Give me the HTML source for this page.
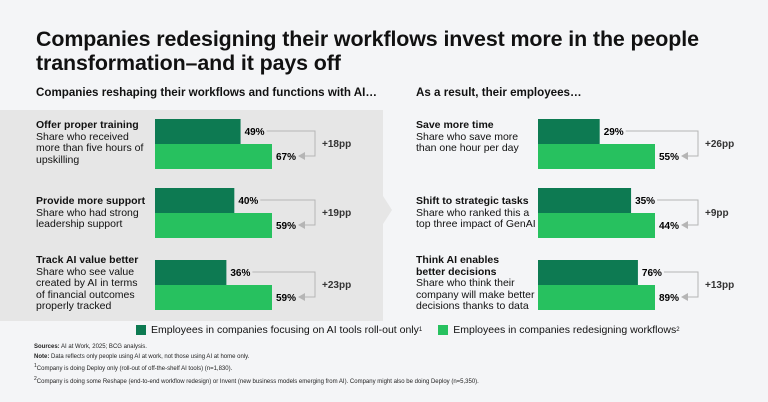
<!DOCTYPE html>
<html><head><meta charset="utf-8"><style>
body{margin:0;width:768px;height:402px;background:#f4f5f7;font-family:"Liberation Sans",sans-serif;color:#111;position:relative;overflow:hidden}
.a{position:absolute}
h1{position:absolute;left:36px;top:27px;margin:0;font-size:21.4px;line-height:24px;font-weight:bold;letter-spacing:-0.1px}
.sub{font-size:11.6px;font-weight:bold}
.lbl{font-size:10.5px;line-height:11.5px}
.lbl b{font-size:10.5px}
.fn{font-size:6px;color:#222;line-height:9.5px}
</style></head><body>
<h1>Companies redesigning their workflows invest more in the people<br>transformation–and it pays off</h1>
<div class="a" style="left:0;top:110px;width:383px;height:211px;background:#e6e6e6"></div>
<svg class="a" style="left:378px;top:196px" width="20" height="28"><polygon points="5,0 14,14 5,28 5,0" fill="#e6e6e6"/></svg>
<div class="a sub" style="left:36px;top:86px">Companies reshaping their workflows and functions with AI…</div>
<div class="a sub" style="left:416px;top:86px">As a result, their employees…</div>

<div class="a lbl" style="left:36px;top:120px"><b>Offer proper training</b><br>Share who received<br>more than five hours of<br>upskilling</div>
<div class="a lbl" style="left:36px;top:196px"><b>Provide more support</b><br>Share who had strong<br>leadership support</div>
<div class="a lbl" style="left:36px;top:255px"><b>Track AI value better</b><br>Share who see value<br>created by AI in terms<br>of financial outcomes<br>properly tracked</div>
<div class="a lbl" style="left:416px;top:120px"><b>Save more time</b><br>Share who save more<br>than one hour per day</div>
<div class="a lbl" style="left:416px;top:196px"><b>Shift to strategic tasks</b><br>Share who ranked this a<br>top three impact of GenAI</div>
<div class="a lbl" style="left:416px;top:255px"><b>Think AI enables<br>better decisions</b><br>Share who think their<br>company will make better<br>decisions thanks to data</div>

<svg class="a" style="left:0;top:0" width="768" height="402" id="chart"></svg>

<div class="a" style="left:136px;top:324px;font-size:10.5px;display:flex;align-items:center">
<span style="display:flex;align-items:center"><span style="width:10px;height:10px;background:#0d7a52;margin-right:5px"></span>Employees in companies focusing on AI tools roll-out only<sup style="font-size:6px">1</sup></span>
<span style="display:flex;align-items:center;margin-left:16px"><span style="width:10px;height:10px;background:#27c15f;margin-right:5px"></span>Employees in companies redesigning workflows<sup style="font-size:6px">2</sup></span>
</div>
<div class="a fn" style="left:34px;top:343px"><b>Sources:</b> AI at Work, 2025; BCG analysis.<br><b>Note:</b> Data reflects only people using AI at work, not those using AI at home only.<br><sup>1</sup>Company is doing Deploy only (roll-out of off-the-shelf AI tools) (n=1,830).<br><sup>2</sup>Company is doing some Reshape (end-to-end workflow redesign) or Invent (new business models emerging from AI). Company might also be doing Deploy (n=5,350).</div>

<script>
const rows = ["training","support","track","time","strategic","decisions"];
const rolloutVals = [49,40,36,29,35,76];
const redesignVals = [67,59,59,55,44,89];
const ppLabels = ["+18pp","+19pp","+23pp","+26pp","+9pp","+13pp"];
const svg = document.getElementById('chart');
const NS = 'http://www.w3.org/2000/svg';
const rowTop = [119,188,260];
function x0(i){return i<3?155:538;}
function w(v,i){const m=Math.max(rolloutVals[i],redesignVals[i]);return v/m*117;}
function el(t,a){const e=document.createElementNS(NS,t);for(const k in a)e.setAttribute(k,a[k]);svg.appendChild(e);return e;}
rows.forEach((r,i)=>{
  const y=rowTop[i%3], bx=x0(i);
  const wd=w(rolloutVals[i],i), wl=w(redesignVals[i],i);
  const b1=el('rect',{x:bx,y:y,width:wd,height:25,fill:'#0d7a52'});
  
  
  const b2=el('rect',{x:bx,y:y+25,width:wl,height:25,fill:'#27c15f'});
  
  
  const t1=el('text',{x:bx+wd+4,y:y+16,'font-size':10,'font-weight':'bold','font-family':'Liberation Sans'});
  t1.textContent=rolloutVals[i]+'%';
  
  
  const t2=el('text',{x:bx+wl+4,y:y+41,'font-size':10,'font-weight':'bold','font-family':'Liberation Sans'});
  t2.textContent=redesignVals[i]+'%';
  
  
  const bxr=bx+160, y1=y+12, y2=y+37;
  const br=el('polyline',{points:`${bx+wd+26},${y1} ${bxr},${y1} ${bxr},${y2} ${bx+wl+32},${y2}`,fill:'none',stroke:'#b5b5b5','stroke-width':1});
  
  
  const ar=el('polygon',{points:`${bx+wl+26},${y2} ${bx+wl+33},${y2-4} ${bx+wl+33},${y2+4}`,fill:'#b5b5b5'});
  
  
  const pp=el('text',{x:bxr+7,y:y+28,'font-size':10,'font-weight':'bold','font-family':'Liberation Sans',fill:'#333'});
  pp.textContent=ppLabels[i];
  
  
});
</script>
</body></html>
